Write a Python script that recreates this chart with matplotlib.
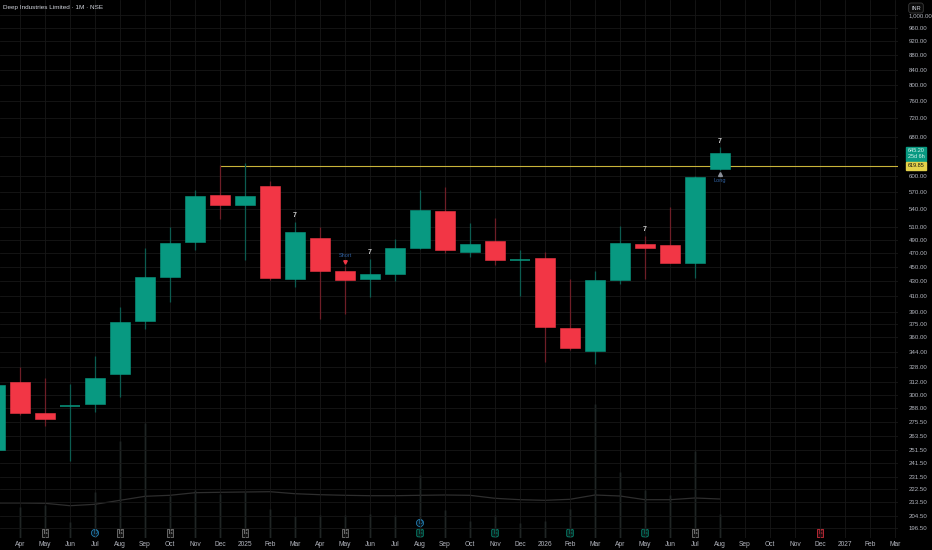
import numpy as np
import matplotlib
matplotlib.use("Agg")
import matplotlib.pyplot as plt
from matplotlib.transforms import blended_transform_factory

plt.rcParams['font.family'] = ['Liberation Sans', 'DejaVu Sans']

# monthly candles, Mar 2024 .. Aug 2026
opens = [252, 312, 283.5, 289.5, 291, 320, 379, 436, 487, 565, 548, 581, 433, 493, 444,
         432.5, 440, 478, 537, 471, 489, 460, 463, 371, 345, 432, 484, 482, 455, 613]
highs = [312, 328, 316, 310, 339, 396, 478, 511, 574, 621, 626, 591, 519, 511, 451,
         461, 491.5, 574, 580, 517.5, 526, 475, 471, 433, 444.5, 512, 496, 544, 600, 657]
lows = [250, 281, 272, 243, 284, 298, 370, 403, 474, 524, 460, 431, 422.5, 382, 387,
        409, 430, 476, 470, 464, 453, 410, 333, 346, 331, 426, 433, 455, 435, 611]
closes = [309, 283, 277.6, 290.5, 316, 377.5, 436, 486, 564, 548, 563, 434, 502, 444, 431,
          440, 478, 538, 474, 484, 460, 461, 372, 348, 432, 486, 477, 455, 598, 645.2]
volumes = [2.5, 3.1, 3.3, 1.6, 4.6, 9.7, 11.5, 4.2, 4.8, 4.4, 4.6, 2.9, 2.2, 2.3, 2.3,
           2.4, 2.3, 6.3, 2.8, 1.7, 2.3, 1.5, 1.7, 2.9, 13.4, 6.6, 4.8, 4.3, 8.7, 2.4]
vol_ma = [3.5, 3.5, 3.47, 3.23, 3.37, 3.77, 4.17, 4.27, 4.53, 4.57, 4.6, 4.63, 4.43, 4.33, 4.27,
          4.23, 4.23, 4.27, 4.3, 4.27, 3.97, 3.83, 3.77, 3.87, 4.3, 4.2, 3.83, 3.83, 4.0, 3.9]

month_labels = ['Apr', 'May', 'Jun', 'Jul', 'Aug', 'Sep', 'Oct', 'Nov', 'Dec', '2025',
                'Feb', 'Mar', 'Apr', 'May', 'Jun', 'Jul', 'Aug', 'Sep', 'Oct', 'Nov', 'Dec', '2026',
                'Feb', 'Mar', 'Apr', 'May', 'Jun', 'Jul', 'Aug', 'Sep', 'Oct', 'Nov', 'Dec', '2027',
                'Feb', 'Mar']
price_ticks = [196.5, 204.5, 213.5, 222.5, 231.5, 241.5, 251.5, 263.5, 275.5, 288, 300, 312,
               328, 344, 360, 375, 390, 410, 430, 450, 470, 490, 510, 540, 570, 600, 640,
               680, 720, 760, 800, 840, 880, 920, 960, 1000]
hidden_ticks = [640]  # covered by the last-price label

earn_gray = [2, 5, 7, 10, 14, 28]
earn_green = [17, 20, 23, 26]
earn_red = [33]
dividends = [4, 17]
seven_marks = [12, 15, 26, 29]
short_idx = 14
long_idx = 29
level = 619.85
level_start = 9
last_price = "645.20"
countdown = "25d 6h"

UP = '#089981'
DOWN = '#f23645'
BG = '#000000'
GRID = '#171717'
TXT = '#b2b5be'

fig = plt.figure(figsize=(9.32, 5.5), dpi=100, facecolor=BG)
ax = fig.add_axes([0, 12 / 550, 898 / 932, 538 / 550])
ax.set_facecolor(BG)
ax.set_yscale('log')
ax.set_ylim(190.6, 1048)
ax.set_xlim(0.2, 36.12)

for t in price_ticks:
    ax.axhline(t, color=GRID, lw=0.6, zorder=0)
for i in range(1, 37):
    ax.axvline(i, color=GRID, lw=0.6, zorder=0)

# volume pane overlay
vax = ax.twinx()
vax.set_ylim(0, 53.8)
vax.set_xlim(0.2, 36.12)
vax.axis('off')
idx = np.arange(len(volumes))
vax.vlines(idx, 0, volumes, color='#536f6c', lw=0.9, zorder=1)
vax.plot(idx, vol_ma, color='#2e2e2e', lw=0.9, zorder=1)

ax.set_zorder(vax.get_zorder() + 1)
ax.patch.set_visible(False)

# candles
for i in range(len(opens)):
    o, h, l, c = opens[i], highs[i], lows[i], closes[i]
    up = c >= o
    body = UP if up else DOWN
    wick = '#0c5c50' if up else '#6e1e27'
    ax.vlines(i, l, h, color=wick, lw=0.9, zorder=3)
    lo, hi = min(o, c), max(o, c)
    if hi / lo < 1.004:
        ax.hlines(o, i - 0.4, i + 0.4, color=body, lw=1.1, zorder=4)
    else:
        ax.bar(i, hi - lo, bottom=lo, width=0.78, color=body, edgecolor=body,
               lw=0.4, zorder=4)

# resistance level
ax.hlines(level, level_start, 36.12, color='#c9b43a', lw=0.8, zorder=2)

# signal markers
for i in seven_marks:
    ax.text(i, highs[i] * 1.02, '7', color='#d0d0d0', fontsize=5,
            ha='center', va='center', fontweight='bold', zorder=6)
ax.text(short_idx, highs[short_idx] * 1.033, 'Short', color='#2f5f9e', fontsize=4,
        ha='center', va='center', zorder=6)
ax.plot(short_idx, highs[short_idx] * 1.012, marker='v', ms=2.5, color=DOWN,
        lw=0, zorder=6)
ax.plot(long_idx, lows[long_idx] * 0.988, marker='^', ms=2.8, color='#8a8f99',
        lw=0, zorder=6)
ax.text(long_idx, lows[long_idx] * 0.967, 'Long', color='#2f5f9e', fontsize=4,
        ha='center', va='center', zorder=6)

# event markers along bottom
for i in earn_gray:
    vax.text(i, 0.5, 'E', color='#c8c8c8', fontsize=4, ha='center', va='center',
             zorder=7, bbox=dict(boxstyle='square,pad=0.25', fc='#111111', ec='#8a8a8a', lw=0.5))
for i in earn_green:
    vax.text(i, 0.5, 'E', color='#089981', fontsize=4, ha='center', va='center',
             zorder=7, bbox=dict(boxstyle='round,pad=0.25', fc='#06221d', ec='#089981', lw=0.5))
for i in earn_red:
    vax.text(i, 0.5, 'E', color='#f23645', fontsize=4, ha='center', va='center',
             zorder=7, bbox=dict(boxstyle='square,pad=0.25', fc='#2a0a0e', ec='#f23645', lw=0.5))
for i in dividends:
    vax.text(i, 1.5 if i in earn_green else 0.5, 'D', color='#2a8fc9', fontsize=4,
             ha='center', va='center', zorder=7,
             bbox=dict(boxstyle='circle,pad=0.2', fc='#061a26', ec='#2a8fc9', lw=0.5))

# axes styling
ax.yaxis.tick_right()
ax.yaxis.set_minor_locator(matplotlib.ticker.NullLocator())
ax.set_yticks(price_ticks)
ax.set_yticklabels(['' if t in hidden_ticks else f"{t:,.2f}" for t in price_ticks])
ax.set_xticks(range(1, 37))
ax.set_xticklabels(month_labels)
ax.tick_params(axis='x', length=0, colors=TXT, labelsize=4.8, pad=2.5)
ax.tick_params(axis='y', length=0, colors=TXT, labelsize=4.4, pad=7.5)
for s in ax.spines.values():
    s.set_visible(False)

# right-side price labels
tr = blended_transform_factory(ax.transAxes, ax.transData)
ax.text(1.011, 644, f"{last_price}\n{countdown}", transform=tr, color='#d8f5ee',
        fontsize=4, linespacing=1.1, ha='left', va='center', clip_on=False, zorder=8,
        bbox=dict(boxstyle='square,pad=0.3', fc=UP, ec=UP))
ax.text(1.011, level, f"{level:.2f}", transform=tr, color='#111111', fontsize=4,
        ha='left', va='center', clip_on=False, zorder=8,
        bbox=dict(boxstyle='square,pad=0.3', fc='#e3d24a', ec='#e3d24a'))

fig.text(3 / 932, 1 - 7 / 550, 'Deep Industries Limited · 1M · NSE', color='#d1d4dc',
         fontsize=4.6, ha='left', va='center')
fig.text(916 / 932, 1 - 8 / 550, 'INR', color='#d1d4dc', fontsize=4, ha='center',
         va='center', zorder=10,
         bbox=dict(boxstyle='round,pad=0.45', fc='#0a0a0a', ec='#3a3a3a', lw=0.6))

fig.savefig('out.png', dpi=100, facecolor=BG)
